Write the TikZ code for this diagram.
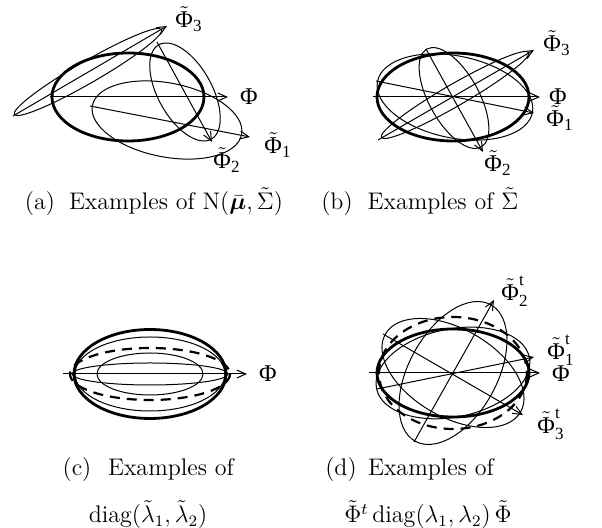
\documentclass[tikz,border=0pt]{standalone}
\usepackage{amsmath}
\usepackage{bm}
\usepackage{fontspec}
\newfontfamily\tms{Liberation Serif}
\usetikzlibrary{arrows.meta}
\newcommand{\lbsub}[1]{\mbox{\fontsize{8.5}{10}\selectfont\tms #1}}
\newcommand{\PhT}{\tilde{\mbox{\tms Φ}}}
\tikzset{
  thickell/.style={line width=1.4pt},
  thinell/.style={line width=0.5pt},
  dashell/.style={line width=1.1pt, dash pattern=on 5pt off 3.5pt},
  axisarrow/.style={line width=0.5pt, -{Straight Barb[length=4.5pt,width=4pt]}},
  lab/.style={font=\tms\fontsize{12}{14}\selectfont, inner sep=0pt},
  capt/.style={font=\fontsize{12}{14}\selectfont, anchor=base, inner sep=0pt},
}
\begin{document}
\begin{tikzpicture}[x=0.5pt,y=-0.5pt]
\useasboundingbox (0,0) rectangle (602,528);

% ---------------- (a)
\coordinate (ca) at (128,97);
\coordinate (a1) at (167,120);
\coordinate (a2) at (185,92);
\coordinate (a3) at (88,72);
\draw[thickell] (ca) ellipse [x radius=76, y radius=44];
\draw[thinell, rotate around={30:(a3)}] (a3) ellipse [x radius=85, y radius=11];
\draw[thinell, rotate around={-11:(a1)}] (a1) ellipse [x radius=76, y radius=37];
\draw[thinell, rotate around={-61:(a2)}] (a2) ellipse [x radius=54, y radius=27];
\coordinate (a0s) at (50,97);  \coordinate (a0e) at (228,97);
\coordinate (a1s) at (90,106); \coordinate (a1e) at (250,137);
\coordinate (a2s) at (157,42); \coordinate (a2e) at (212,142);
\coordinate (a3s) at (13,116); \coordinate (a3e) at (167,26);
\draw[axisarrow] (a0s) -- (a0e);
\draw[axisarrow] (a1s) -- (a1e);
\draw[axisarrow] (a2s) -- (a2e);
\draw[axisarrow] (a3s) -- (a3e);
\node[lab] (la0) at (249,97) {Φ};
\node[lab] (la1) at (278,145) {$\PhT_{\lbsub{1}}$};
\node[lab] (la2) at (227,160) {$\PhT_{\lbsub{2}}$};
\node[lab] (la3) at (189,19) {$\PhT_{\lbsub{3}}$};

% ---------------- (b)
\coordinate (cb) at (453,97);
\coordinate (b1) at (455,97);
\coordinate (b2) at (454,98);
\coordinate (b3) at (455,95);
\draw[thickell] (cb) ellipse [x radius=76, y radius=44];
\draw[thinell, rotate around={-11.5:(b1)}] (b1) ellipse [x radius=79, y radius=41];
\draw[thinell, rotate around={30:(b3)}] (b3) ellipse [x radius=85, y radius=11];
\draw[thinell, rotate around={-61:(b2)}] (b2) ellipse [x radius=56, y radius=25];
\coordinate (b0s) at (373,97);  \coordinate (b0e) at (540,97);
\coordinate (b1s) at (376,81);  \coordinate (b1e) at (534,113);
\coordinate (b2s) at (426,49);  \coordinate (b2e) at (483,152);
\coordinate (b3s) at (378,140); \coordinate (b3e) at (534,50);
\draw[axisarrow] (b0s) -- (b0e);
\draw[axisarrow] (b1s) -- (b1e);
\draw[axisarrow] (b2s) -- (b2e);
\draw[axisarrow] (b3s) -- (b3e);
\node[lab] (lb0) at (558,97) {Φ};
\node[lab] (lb1) at (560,118) {$\PhT_{\lbsub{1}}$};
\node[lab] (lb2) at (498,163) {$\PhT_{\lbsub{2}}$};
\node[lab] (lb3) at (557,43) {$\PhT_{\lbsub{3}}$};

% ---------------- (c)
\coordinate (cc) at (150,374);
\draw[thickell] (cc) ellipse [x radius=76, y radius=44.5];
\draw[thinell] (cc) ellipse [x radius=75, y radius=37];
\draw[dashell] (cc) ellipse [x radius=80, y radius=26];
\draw[thinell] (cc) ellipse [x radius=53, y radius=21];
\draw[thinell] (cc) ellipse [x radius=78, y radius=11];
\coordinate (c0s) at (63,374); \coordinate (c0e) at (247,374);
\draw[axisarrow] (c0s) -- (c0e);
\node[lab] (lc0) at (268,374) {Φ};

% ---------------- (d)
\coordinate (cd) at (453,373);
\draw[thickell] (cd) ellipse [x radius=76, y radius=44];
\draw[dashell] (cd) ellipse [x radius=74, y radius=56];
\draw[thinell, rotate around={11.5:(cd)}] (cd) ellipse [x radius=78, y radius=44];
\draw[thinell, rotate around={-30:(cd)}] (cd) ellipse [x radius=78, y radius=44];
\draw[thinell, rotate around={61:(cd)}] (cd) ellipse [x radius=78, y radius=44];
\coordinate (d0s) at (369,373); \coordinate (d0e) at (540,373);
\coordinate (d1s) at (377,389); \coordinate (d1e) at (534,357);
\coordinate (d2s) at (414,442); \coordinate (d2e) at (494,300);
\coordinate (d3s) at (383,334); \coordinate (d3e) at (523,415);
\draw[axisarrow] (d0s) -- (d0e);
\draw[axisarrow] (d1s) -- (d1e);
\draw[axisarrow] (d2s) -- (d2e);
\draw[axisarrow] (d3s) -- (d3e);
\node[lab] (ld0) at (561,374) {Φ};
\node[lab] (ld1) at (561,350) {$\PhT^{\lbsub{t}}_{\lbsub{1}}$};
\node[lab] (ld2) at (515,291) {$\PhT^{\lbsub{t}}_{\lbsub{2}}$};
\node[lab] (ld3) at (551,424) {$\PhT^{\lbsub{t}}_{\lbsub{3}}$};

% ---------------- captions
\node[capt] (capa0) at (40,210) {(a)};
\node[capt] (capa) at (176,210) {Examples of $\mathrm{N}(\bar{\bm{\mu}},\tilde{\Sigma})$};
\node[capt] (capb0) at (337,210) {(b)};
\node[capt] (capb) at (443,210) {Examples of $\tilde{\Sigma}$};
\node[capt] (capc0) at (77,476) {(c)};
\node[capt] (capc1) at (171,476) {Examples of};
\node[capt] (capc2) at (148,523) {$\mathrm{diag}(\tilde{\lambda}_1,\tilde{\lambda}_2)$};
\node[capt] (capd0) at (341,476) {(d)};
\node[capt] (capd1) at (431,476) {Examples of};
\node[capt] (capd2) at (428,523) {$\tilde{\Phi}^t\,\mathrm{diag}(\lambda_1,\lambda_2)\,\tilde{\Phi}$};
\end{tikzpicture}
\end{document}
